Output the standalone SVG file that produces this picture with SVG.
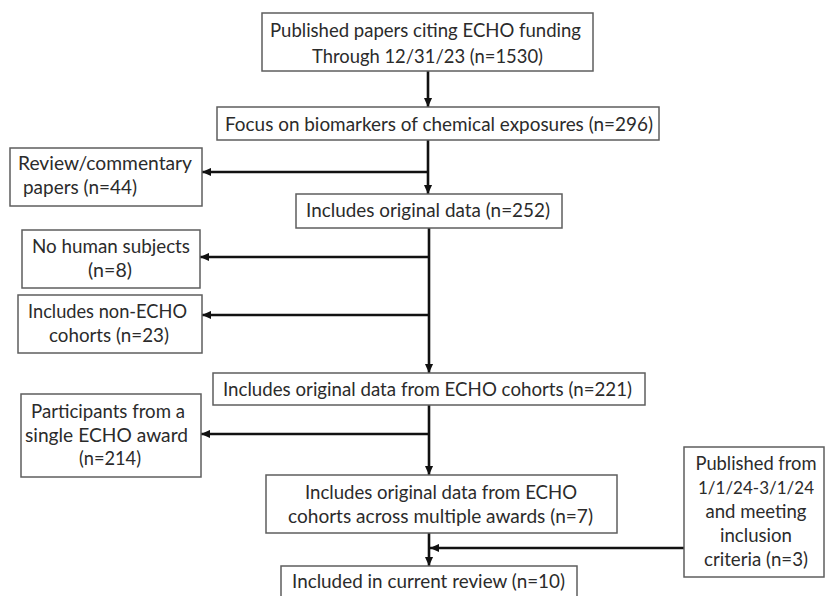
<svg xmlns="http://www.w3.org/2000/svg" width="826" height="596" viewBox="0 0 826 596">
<defs>
<style>
.box{fill:#fff;stroke:#5e5e5e;stroke-width:1.5}
.t{font-family:Lato,"Liberation Sans",sans-serif;font-size:19.5px;fill:#2b2b2b}
.c{text-anchor:middle}
.ln{fill:none;stroke:#111;stroke-width:2.6}
</style>
<marker id="ah" viewBox="0 0 10 10" refX="10" refY="5" markerWidth="9" markerHeight="9" markerUnits="userSpaceOnUse" orient="auto">
<path d="M0,0.5 L10,5 L0,9.5 z" fill="#111"/>
</marker>
</defs>
<rect width="826" height="596" fill="#fff"/>
<g id="connectors">
<line class="ln" x1="428" y1="71" x2="428" y2="107" marker-end="url(#ah)"/>
<line class="ln" x1="428" y1="140" x2="428" y2="194" marker-end="url(#ah)"/>
<line class="ln" x1="429" y1="172" x2="202" y2="172" marker-end="url(#ah)"/>
<line class="ln" x1="429" y1="228" x2="429" y2="373" marker-end="url(#ah)"/>
<line class="ln" x1="430" y1="257" x2="200" y2="257" marker-end="url(#ah)"/>
<line class="ln" x1="430" y1="315" x2="202" y2="315" marker-end="url(#ah)"/>
<line class="ln" x1="429" y1="405" x2="429" y2="475" marker-end="url(#ah)"/>
<line class="ln" x1="430" y1="434" x2="201" y2="434" marker-end="url(#ah)"/>
<line class="ln" x1="429" y1="533" x2="429" y2="566" marker-end="url(#ah)"/>
<line class="ln" x1="684" y1="548" x2="430" y2="548" marker-end="url(#ah)"/>
</g>
<g id="n1">
<rect class="box" x="262" y="13" width="331" height="58"/>
<text class="t" x="270" y="37" textLength="311" lengthAdjust="spacingAndGlyphs">Published papers citing ECHO funding</text>
<text class="t" x="312" y="63" textLength="231" lengthAdjust="spacingAndGlyphs">Through 12/31/23 (n=1530)</text>
</g>
<g id="n2">
<rect class="box" x="217" y="107" width="442" height="33"/>
<text class="t" x="225" y="131" textLength="428" lengthAdjust="spacingAndGlyphs">Focus on biomarkers of chemical exposures (n=296)</text>
</g>
<g id="n3">
<rect class="box" x="10" y="148" width="192" height="58"/>
<text class="t" x="18" y="170" textLength="174" lengthAdjust="spacingAndGlyphs">Review/commentary</text>
<text class="t" x="23" y="194" textLength="114" lengthAdjust="spacingAndGlyphs">papers (n=44)</text>
</g>
<g id="n4">
<rect class="box" x="296" y="194" width="266" height="34"/>
<text class="t" x="306" y="217" textLength="244" lengthAdjust="spacingAndGlyphs">Includes original data (n=252)</text>
</g>
<g id="n5">
<rect class="box" x="22" y="230" width="178" height="58"/>
<text class="t" x="32" y="253" textLength="158" lengthAdjust="spacingAndGlyphs">No human subjects</text>
<text class="t" x="88" y="277" textLength="44" lengthAdjust="spacingAndGlyphs">(n=8)</text>
</g>
<g id="n6">
<rect class="box" x="18" y="295" width="184" height="58"/>
<text class="t" x="28" y="318" textLength="159" lengthAdjust="spacingAndGlyphs">Includes non-ECHO</text>
<text class="t" x="49" y="342" textLength="120" lengthAdjust="spacingAndGlyphs">cohorts (n=23)</text>
</g>
<g id="n7">
<rect class="box" x="213" y="373" width="432" height="32"/>
<text class="t" x="223" y="396" textLength="409" lengthAdjust="spacingAndGlyphs">Includes original data from ECHO cohorts (n=221)</text>
</g>
<g id="n8">
<rect class="box" x="21" y="394" width="180" height="83"/>
<text class="t" x="31" y="418" textLength="154" lengthAdjust="spacingAndGlyphs">Participants from a</text>
<text class="t" x="25" y="442" textLength="163" lengthAdjust="spacingAndGlyphs">single ECHO award</text>
<text class="t" x="79" y="465" textLength="62" lengthAdjust="spacingAndGlyphs">(n=214)</text>
</g>
<g id="n9">
<rect class="box" x="266" y="475" width="351" height="58"/>
<text class="t" x="305" y="499" textLength="272" lengthAdjust="spacingAndGlyphs">Includes original data from ECHO</text>
<text class="t" x="288" y="523" textLength="305" lengthAdjust="spacingAndGlyphs">cohorts across multiple awards (n=7)</text>
</g>
<g id="n10">
<rect class="box" x="281" y="566" width="296" height="40"/>
<text class="t" x="292" y="588" textLength="273" lengthAdjust="spacingAndGlyphs">Included in current review (n=10)</text>
</g>
<g id="n11">
<rect class="box" x="684" y="447" width="140" height="130"/>
<text class="t c" x="756" y="470" textLength="121" lengthAdjust="spacingAndGlyphs">Published from</text>
<text class="t c" x="756" y="494" style="font-size:17.5px" textLength="116" lengthAdjust="spacingAndGlyphs">1/1/24-3/1/24</text>
<text class="t c" x="756" y="518" textLength="101" lengthAdjust="spacingAndGlyphs">and meeting</text>
<text class="t c" x="756" y="542" textLength="72" lengthAdjust="spacingAndGlyphs">inclusion</text>
<text class="t c" x="756" y="566" textLength="104" lengthAdjust="spacingAndGlyphs">criteria (n=3)</text>
</g>
</svg>
